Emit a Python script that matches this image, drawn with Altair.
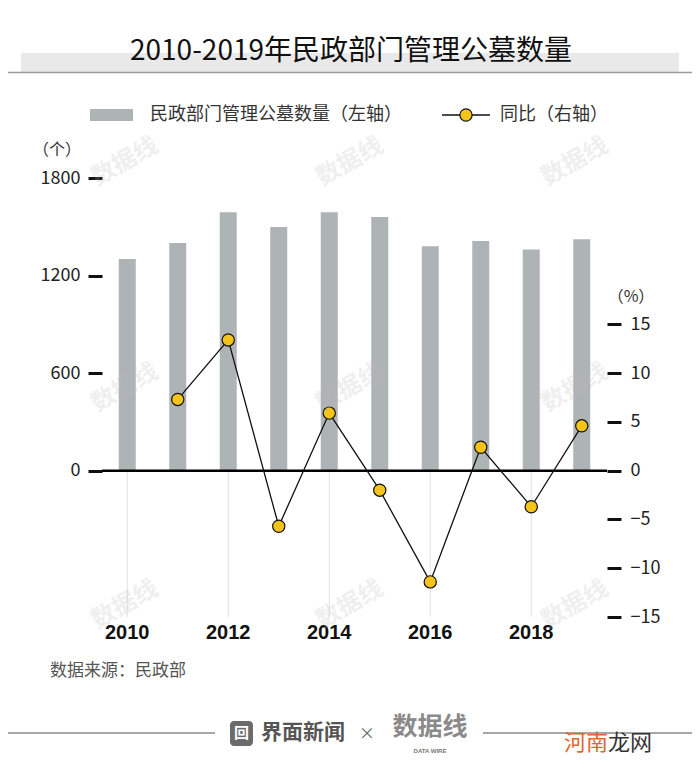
import altair as alt
import pandas as pd

# ---------------- data ----------------
years = [2010, 2011, 2012, 2013, 2014, 2015, 2016, 2017, 2018, 2019]
counts = [1302, 1400, 1590, 1498, 1590, 1560, 1380, 1412, 1361, 1423]
yoy_years = [2011, 2012, 2013, 2014, 2015, 2016, 2017, 2018, 2019]
yoy = [7.3, 13.4, -5.7, 5.9, -2.0, -11.4, 2.4, -3.7, 4.6]
left_ticks = [0, 600, 1200, 1800]
right_ticks = [-15, -10, -5, 0, 5, 10, 15]
label_years = [2010, 2012, 2014, 2016, 2018]

title_text = "2010-2019年民政部门管理公墓数量"
legend_bar = "民政部门管理公墓数量（左轴）"
legend_line = "同比（右轴）"
left_unit = "（个）"
right_unit = "（%）"
source_text = "数据来源：民政部"

# ---------------- layout ----------------
OX, OY = 102, 178          # page position of plot origin
W, H = 505, 439
def px(x): return x - OX
def py(y): return y - OY

CJK = "Noto Sans CJK SC"
BAR = "#aeb3b5"
YEL = "#f5c41a"

bars_df = pd.DataFrame({"year": years, "count": counts})
yoy_df = pd.DataFrame({"year": yoy_years, "yoy": yoy})
grid_df = pd.DataFrame({"year": label_years, "count": [0] * len(label_years), "hi": [-900] * len(label_years)})
zero_df = pd.DataFrame({"count": [0]})

xscale = alt.Scale(domain=years, paddingInner=0, paddingOuter=0)
xaxis = alt.Axis(values=label_years, title=None, labelAngle=0, ticks=False, domain=False,
                 labelFont="Liberation Sans", labelFontWeight="bold", labelFontSize=20,
                 labelColor="#111", labelPadding=5, grid=False)
X = alt.X("year:O", scale=xscale, axis=xaxis)

lscale = alt.Scale(domain=[-900, 1800], nice=False, zero=False)
laxis = alt.Axis(values=left_ticks, orient="left", title=None, grid=False, domain=False, format="d",
                 tickColor="#111", tickWidth=3, tickSize=14, labelFontSize=18,
                 labelFont=CJK, labelPadding=8, labelColor="#222")
LY = alt.Y("count:Q", scale=lscale, axis=laxis)

rscale = alt.Scale(domain=[-15, 30], nice=False, zero=False)
raxis = alt.Axis(values=right_ticks, orient="right", title=None, grid=False, domain=False, format="d",
                 tickColor="#111", tickWidth=3, tickSize=14, labelFontSize=18,
                 labelFont=CJK, labelPadding=9, labelColor="#222")
RY = alt.Y("yoy:Q", scale=rscale, axis=raxis)

bars = alt.Chart(bars_df).mark_bar(color=BAR, size=17).encode(x=X, y=LY)

grid = alt.Chart(grid_df).mark_rule(color="#e2e2e2", strokeWidth=1).encode(
    x=X, y=LY, y2="hi:Q")

zero = alt.Chart(zero_df).mark_rule(color="#000", strokeWidth=2.5).encode(y=LY)

left = alt.layer(bars, grid, zero)

line = alt.Chart(yoy_df).mark_line(color="#111", strokeWidth=1.3).encode(x=X, y=RY)
pts = alt.Chart(yoy_df).mark_point(shape="circle", filled=True, fill=YEL, stroke="#111",
                                   strokeWidth=1.2, size=150, opacity=1).encode(x=X, y=RY)
right = alt.layer(line, pts)

# ---------------- decorations ----------------
one = pd.DataFrame({"a": [0]})

def txt(t, x, y, size, color="#222", align="left", weight="normal", font=CJK, angle=0, opacity=1.0):
    return alt.Chart(pd.DataFrame({"t": [t]})).mark_text(
        align=align, baseline="middle", fontSize=size, color=color, fontWeight=weight,
        font=font, angle=angle, opacity=opacity).encode(
        text="t:N", x=alt.value(px(x)), y=alt.value(py(y)))

def rect(x1, x2, y1, y2, color, r=0):
    return alt.Chart(one).mark_rect(color=color, cornerRadius=r).encode(
        x=alt.value(px(x1)), x2=alt.value(px(x2)), y=alt.value(py(y1)), y2=alt.value(py(y2)))

def hline(x1, x2, y, color, w):
    return alt.Chart(one).mark_rule(color=color, strokeWidth=w).encode(
        x=alt.value(px(x1)), x2=alt.value(px(x2)), y=alt.value(py(y)))

deco = []
# faint watermarks
for (wx, wy) in [(125, 162), (350, 162), (575, 162), (125, 388), (350, 388), (575, 388),
                 (125, 605), (350, 605), (575, 605)]:
    deco.append(txt("数据线", wx, wy, 24, color="#bbbbbb", align="center", weight="bold",
                    angle=330, opacity=0.22))
# title
deco.append(rect(21, 679, 53, 72, "#e9e9e9"))
deco.append(hline(8, 692, 72.5, "#9a9a9a", 1.5))
deco.append(txt(title_text, 351, 52, 28, color="#111", align="center", weight="normal"))
# legend
deco.append(rect(90, 133, 109, 121, BAR))
deco.append(txt(legend_bar, 150, 115, 18, color="#333"))
deco.append(hline(442, 490, 115, "#111", 1.3))
deco.append(alt.Chart(one).mark_point(shape="circle", filled=True, fill=YEL, stroke="#111",
                                      strokeWidth=1.2, size=150, opacity=1).encode(
    x=alt.value(px(466)), y=alt.value(py(115))))
deco.append(txt(legend_line, 500, 115, 18, color="#333"))
# units
deco.append(txt(left_unit, 57, 150, 16, color="#333", align="center"))
deco.append(txt(right_unit, 631, 297, 16, color="#333", align="center"))
# source
deco.append(txt(source_text, 50, 671, 17, color="#555"))
# footer
deco.append(hline(8, 215, 733, "#888888", 1.5))
deco.append(hline(483, 692, 733, "#888888", 1.5))
deco.append(rect(230, 253, 721, 746, "#6b6b6b", r=4))
deco.append(txt("回", 241.5, 733, 15, color="#ffffff", align="center", weight="bold"))
deco.append(txt("界面新闻", 261, 733, 21, color="#555555", weight="bold"))
deco.append(txt("×", 367, 734, 16, color="#666666", align="center"))
deco.append(txt("数据线", 430, 727, 25, color="#8a8a8a", align="center", weight="bold"))
deco.append(txt("DATA WIRE", 430, 751, 6, color="#777777", align="center", font="Liberation Sans",
                weight="bold"))
deco.append(txt("河南", 564, 743, 22, color="#e0662e"))
deco.append(txt("龙网", 608, 743, 22, color="#333333"))

decor = alt.layer(*deco)

chart = alt.layer(left, right, decor).resolve_scale(y="independent").properties(
    width=W, height=H,
    autosize=alt.AutoSizeParams(type="none"),
    padding={"left": 94, "top": 170, "right": 85, "bottom": 156},
    background="white",
).configure_view(stroke=None)

chart.save("out.html", embed_options={"renderer": "svg", "actions": False})
